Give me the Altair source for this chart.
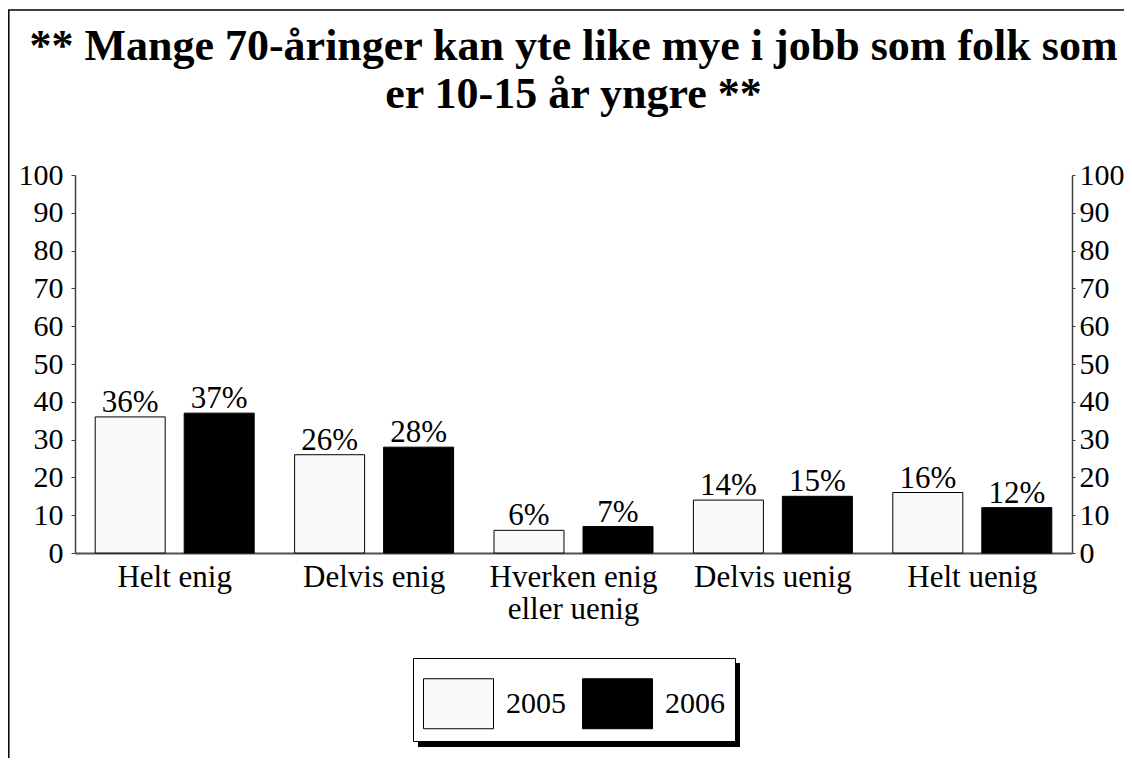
import altair as alt
import pandas as pd

FONT = "Liberation Serif"

categories = ["Helt enig", "Delvis enig", "Hverken enig eller uenig", "Delvis uenig", "Helt uenig"]
years = ["2005", "2006"]
values_2005 = [36, 26, 6, 14, 16]
values_2006 = [37, 28, 7, 15, 12]
y_ticks = [0, 10, 20, 30, 40, 50, 60, 70, 80, 90, 100]
title_lines = ["** Mange 70-åringer kan yte like mye i jobb som folk som", "er 10-15 år yngre **"]

rows = []
for c, a, b in zip(categories, values_2005, values_2006):
    rows.append({"kategori": c, "year": "2005", "verdi": a})
    rows.append({"kategori": c, "year": "2006", "verdi": b})
df = pd.DataFrame(rows)

W, H = 997, 378
LEG_X, LEG_Y, LEG_W, LEG_H = 338, 483, 322, 84

x_enc = alt.X(
    "kategori:N",
    sort=categories,
    scale=alt.Scale(paddingInner=0, paddingOuter=0),
    axis=alt.Axis(
        title=None,
        labelAngle=0,
        ticks=False,
        domainColor="#505050",
        domainWidth=2,
        labelFont=FONT,
        labelFontSize=31,
        labelColor="black",
        labelPadding=9,
        labelLineHeight=32,
        labelBaseline="top",
        labelExpr="datum.label == 'Hverken enig eller uenig' ? ['Hverken enig', 'eller uenig'] : datum.label",
    ),
)
xo_enc = alt.XOffset("year:N", sort=years, scale=alt.Scale(paddingInner=0.2135, paddingOuter=0.227))

def y_axis(orient, pad, tick):
    return alt.Axis(
        orient=orient,
        title=None,
        values=y_ticks,
        grid=False,
        tickSize=tick,
        tickColor="#404040",
        domainColor="#404040",
        domainWidth=1.5,
        labelFont=FONT,
        labelFontSize=30,
        labelColor="black",
        labelPadding=pad,
    )

y_scale = alt.Scale(domain=[0, 100], nice=False)

bars = alt.Chart(df).mark_bar(stroke="black", strokeWidth=1).encode(
    x=x_enc,
    xOffset=xo_enc,
    y=alt.Y("verdi:Q", scale=y_scale, axis=y_axis("left", 8, 4)),
    color=alt.Color(
        "year:N",
        sort=years,
        scale=alt.Scale(domain=years, range=["#fafafa", "#000000"]),
        legend=alt.Legend(
            title=None,
            orient="none",
            legendX=LEG_X,
            legendY=LEG_Y,
            direction="horizontal",
            symbolType="M-1,-0.714H1V0.714H-1Z",
            symbolSize=4900,
            symbolStrokeColor="black",
            symbolStrokeWidth=1,
            symbolOpacity=1,
            labelFont=FONT,
            labelFontSize=30,
            labelColor="black",
            labelOffset=12,
            columnPadding=14,
            padding=10,
            strokeColor="black",
            fillColor="white",
            zindex=1,
        ),
    ),
)

labels = alt.Chart(df).transform_calculate(
    pct="datum.verdi + '%'"
).mark_text(font=FONT, fontSize=31, color="black", baseline="alphabetic", dy=-5).encode(
    x=x_enc,
    xOffset=xo_enc,
    y=alt.Y("verdi:Q", scale=y_scale, axis=y_axis("right", 4, 3)),
    text="pct:N",
)

one = alt.Data(values=[{"k": 1}])

shadow = alt.Chart(one).mark_rect(color="black").encode(
    x=alt.value(LEG_X + 5), x2=alt.value(LEG_X + 5 + LEG_W),
    y=alt.value(LEG_Y + 5), y2=alt.value(LEG_Y + 5 + LEG_H),
)
frame_top = alt.Chart(one).mark_rule(color="black", strokeWidth=1.5).encode(
    x=alt.value(-67), x2=alt.value(1049), y=alt.value(-165)
)
frame_left = alt.Chart(one).mark_rule(color="black", strokeWidth=1.5).encode(
    x=alt.value(-66.2), y=alt.value(-165), y2=alt.value(590)
)

chart = alt.layer(shadow, frame_top, frame_left, bars, labels).resolve_scale(
    y="independent"
).properties(
    width=W,
    height=H,
    autosize=alt.AutoSizeParams(type="none"),
    padding={"left": 67, "top": 167, "right": 52, "bottom": 205},
    title=alt.TitleParams(
        text=title_lines,
        font=FONT,
        fontSize=44,
        fontWeight="bold",
        lineHeight=48,
        anchor="middle",
        color="black",
        baseline="alphabetic",
        offset=-143,
    ),
).configure(background="white", view=alt.ViewConfig(stroke="transparent"))

chart.save("out.html", embed_options={"renderer": "svg", "actions": False})
